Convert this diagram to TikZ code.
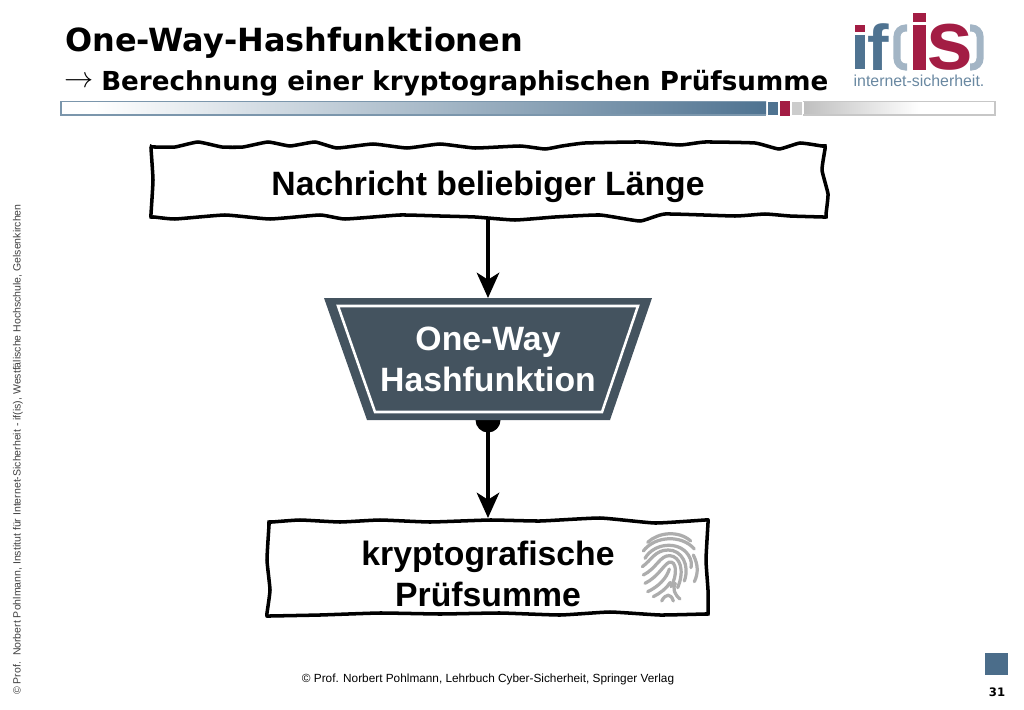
\documentclass[tikz,border=0pt]{standalone}
\usepackage{fontspec}
\setmainfont{Liberation Sans}
\newfontfamily\titlefont{DejaVu Sans}
\usetikzlibrary{arrows.meta,backgrounds}
\definecolor{slate}{HTML}{44535F}
\definecolor{steel}{HTML}{4F7391}
\definecolor{crimson}{HTML}{A31D44}
\definecolor{haze}{HTML}{A3B5C5}
\tikzset{
  wobble/.style={line width=2.5pt,fill=white,line join=miter},
  flow/.style={line width=2.5pt,-{Stealth[length=18pt,width=16pt,inset=5pt]}},
  bodytext/.style={font=\fontsize{24}{29}\selectfont\bfseries,align=center,inner sep=0pt},
  bracket/.style={haze,line width=5pt,rounded corners=6pt},
  ridge/.style={line width=2.3pt,color=black!32,line cap=round}
}
\begin{document}
\begin{tikzpicture}[x=0.025cm,y=-0.025cm]
  \useasboundingbox (0,0) rectangle (1024,709);

  % header
  \node[anchor=west,inner sep=0pt,font=\titlefont\fontsize{22.7}{27}\selectfont\bfseries] (title) at (65,43) {One-Way-Hashfunktionen};
  \node[anchor=west,inner sep=0pt,font=\fontsize{20}{20}\selectfont] (subarrow) at (64,82) {$\rightarrow$};
  \node[anchor=west,inner sep=0pt,font=\titlefont\fontsize{18.6}{22}\selectfont\bfseries] (subtitle) at (101,83) {Berechnung einer kryptographischen Prüfsumme};

  % bar below the header
  \shade[left color=white,right color=steel] (95,102) rectangle (766,115);
  \draw[steel!75,line width=0.9pt] (766,101.5) -- (61,101.5) -- (61,115) -- (766,115);
  \fill[steel] (768,102) rectangle (778,115);
  \fill[crimson] (780,101) rectangle (790,116);
  \fill[black!20] (792,102) rectangle (802,115);
  \shade[left color=black!25,right color=white] (804,102) rectangle (920,115);
  \draw[black!22,line width=0.9pt] (803,101.5) -- (995,101.5) -- (995,115) -- (803,115);

  % logo
  \fill[crimson] (855,25) rectangle (865,32);
  \fill[steel] (855,35) rectangle (865,69);
  \node[inner sep=0pt,text=steel,font=\fontsize{46}{46}\selectfont\bfseries] (logof) at (878,47) {f};
  \draw[bracket] (907,28) -- (897,28) -- (897,67) -- (907,67);
  \fill[crimson] (913,13) rectangle (926,22);
  \fill[crimson] (913,25) rectangle (926,70);
  \node[inner sep=0pt,text=crimson,font=\fontsize{60}{60}\selectfont\bfseries] (logos) at (950,47) {s};
  \draw[bracket] (970,28) -- (980,28) -- (980,67) -- (970,67);
  \node[inner sep=0pt,text=steel!85,font=\fontsize{11.3}{13}\selectfont] (logotext) at (919,81) {internet-sicherheit.};

  % message box
  \draw[wobble] plot[smooth cycle,tension=0.25] coordinates {(151,148) (152,147) (155,147) (175,147) (198,142) (222,147) (243,147) (268,142) (290,146) (315,142) (337,148) (373,144) (407,148) (440,144) (475,148) (520,146) (545,149) (562,146) (585,143) (640,142) (680,145) (705,142) (755,143) (779,149) (800,143) (822,146) (825,146) (825,149) (822,170) (828,194) (826,214) (826,217) (823,217) (790,216) (765,214) (735,216) (665,214) (640,221) (600,215) (555,217) (515,220) (475,217) (440,216) (400,215) (345,219) (320,215) (270,219) (225,215) (175,219) (154,217) (151,217) (151,214) (153,180)};
  \node[bodytext] (msg) at (488,187) {Nachricht beliebiger Länge};
  \coordinate (msgout) at (488,218);

  % hash function
  \fill[slate] (324,298) -- (652,298) -- (610,420) -- (367,420) -- cycle;
  \draw[white,line width=1.8pt] (338,306) -- (638,306) -- (602,412) -- (375,412) -- cycle;
  \node[bodytext,text=white] (hash) at (488,359) {One-Way\\Hashfunktion};
  \coordinate (hashin) at (488,298);
  \coordinate (hashout) at (488,420);

  % digest box
  \draw[wobble] plot[smooth cycle,tension=0.25] coordinates {(269,525) (269,522) (272,522) (300,520) (340,522) (380,520) (430,522) (490,520) (540,521) (600,518) (655,523) (705,520) (708,520) (708,523) (706,560) (708,590) (708,611) (708,614) (705,614) (660,615) (610,612) (560,615) (500,613) (440,614) (380,613) (320,615) (270,616) (267,616) (267,613) (270,590) (267,560)};
  \node[bodytext] (digest) at (488,574) {kryptografische\\Prüfsumme};
  \coordinate (digestin) at (488,518);

  % fingerprint
  \begin{scope}[shift={(635,525)},x=0.00833cm,y=-0.00833cm]
    \draw[ridge] (38,52) .. controls (70,22) and (130,15) .. (167,48);
    \draw[ridge] (25,78) .. controls (60,32) and (140,28) .. (178,72);
    \draw[ridge] (30,100) .. controls (55,55) and (130,45) .. (160,90) .. controls (170,105) and (170,118) .. (168,128);
    \draw[ridge] (175,90) .. controls (190,120) and (190,145) .. (178,170);
    \draw[ridge] (22,125) .. controls (50,105) and (60,75) .. (100,75) .. controls (140,75) and (165,120) .. (148,168);
    \draw[ridge] (25,150) .. controls (65,130) and (75,90) .. (105,92) .. controls (135,95) and (150,135) .. (128,188);
    \draw[ridge] (30,175) .. controls (70,155) and (85,120) .. (102,112) .. controls (125,105) and (128,150) .. (108,185);
    \draw[ridge] (38,200) .. controls (70,185) and (95,160) .. (103,132);
    \draw[ridge] (55,215) .. controls (75,205) and (95,190) .. (106,172);
    \draw[ridge] (121,175) .. controls (112,190) and (118,208) .. (135,222);
    \draw[ridge] (80,228) .. controls (92,205) and (108,205) .. (115,228);
  \end{scope}

  % connectors
  \draw[flow] (msgout) -- (hashin);
  \begin{pgfonlayer}{background}
    \draw[flow] (hashout) -- (digestin);
    \fill (hashout) circle (12.5);
  \end{pgfonlayer}

  % footer
  \node[inner sep=0pt,font=\fontsize{8.4}{10}\selectfont] (credit) at (488,679) {© Prof. Norbert Pohlmann, Lehrbuch Cyber-Sicherheit, Springer Verlag};
  \node[rotate=90,anchor=west,inner sep=0pt,text=black!75,font=\fontsize{7.48}{9}\selectfont] (side) at (18,695) {© Prof.\ \ Norbert Pohlmann, Institut für Internet-Sicherheit - if(is), Westfälische Hochschule, Gelsenkirchen};
  \fill[steel!95!black] (985,653) rectangle (1008,675);
  \node[inner sep=0pt,font=\titlefont\fontsize{8.3}{10}\selectfont\bfseries] (pageno) at (997,692) {31};
\end{tikzpicture}
\end{document}
